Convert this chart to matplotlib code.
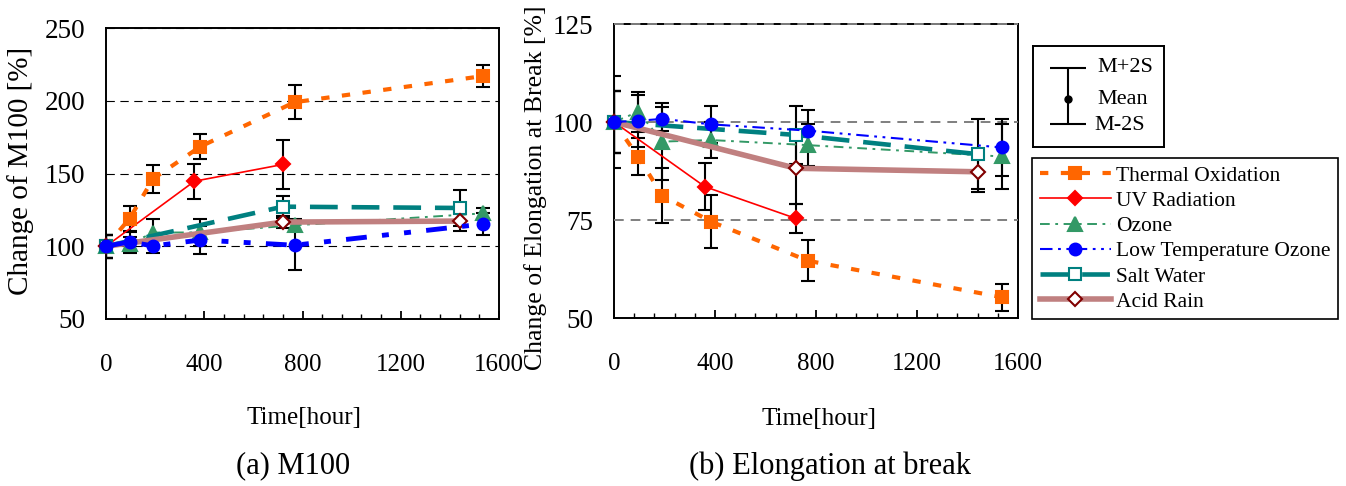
import matplotlib
matplotlib.use('Agg')
import matplotlib.pyplot as plt
from matplotlib.ticker import MultipleLocator

plt.rcParams['font.family'] = ['Liberation Serif', 'DejaVu Serif']
plt.rcParams['lines.scale_dashes'] = False

# ---------------- data ----------------
series = ['Thermal Oxidation', 'UV Radiation', 'Ozone',
          'Low Temperature Ozone', 'Salt Water', 'Acid Rain']

t_std = [0, 96, 192, 384, 768, 1536]   # Thermal Oxidation, Ozone, Low Temp. Ozone
t_uv = [0, 360, 720]                   # UV Radiation
t_env = [0, 720, 1440]                 # Salt Water, Acid Rain

# (a) M100 change [%]  (mean, 2S)
m100_to = [100, 119, 146.4, 168.5, 199, 217]
m100_to_err = [8, 9, 9.5, 8.7, 11.7, 7.5]
m100_uv = [100, 144.7, 156.2]
m100_uv_err = [8, 12, 17]
m100_oz = [100, 101.5, 109.4, 109.5, 114.4, 122.6]
m100_oz_err = [8, 5, 9, 9.5, 4, 4]
m100_lto = [100, 103, 100.2, 104.3, 100.7, 115.3]
m100_lto_err = [8, 7.5, 4.5, 9.5, 17, 7.5]
m100_salt = [100, 127.2, 126.3]
m100_salt_err = [8, 7.5, 12.7]
m100_acid = [100, 116.6, 117.3]
m100_acid_err = [8, 4, 6.8]

# (b) Elongation at break change [%]  (mean, 2S)
elo_to = [100, 91.1, 81.2, 74.6, 64.6, 55.3]
elo_to_err = [8, 4.7, 7, 6.7, 5.2, 3.4]
elo_uv = [100, 83.5, 75.4]
elo_uv_err = [11.8, 6, 3.8]
elo_oz = [100, 102.6, 95, 95.4, 94.1, 91.2]
elo_oz_err = [8, 5.1, 9.9, 4.5, 5.3, 8.3]
elo_lto = [100, 100.3, 100.8, 99.4, 97.8, 93.5]
elo_lto_err = [8, 6.7, 3, 4.7, 5.3, 7.3]
elo_salt = [100, 96.7, 91.8]
elo_salt_err = [8, 7.4, 9]
elo_acid = [100, 88.2, 87.3]
elo_acid_err = [8, 9, 5.2]

x_ticks = [0, 400, 800, 1200, 1600]
ticks_a = [50, 100, 150, 200, 250]
ticks_b = [50, 75, 100, 125]

# ---------------- styles ----------------
def styles(thick_lto):
    return {
        'Thermal Oxidation': dict(color='#FF6600', ls=(0, (6, 9)), lw=3.0, marker='s',
                                  ms=8, mfc='#FF6600', mec='#FF6600', z=3.1),
        'UV Radiation': dict(color='#FF0000', ls='-', lw=1.2, marker='D', ms=7.5,
                             mfc='#FF0000', mec='#FF0000', z=3.0),
        'Ozone': dict(color='#339966', ls=(0, (7, 4, 2, 4)), lw=1.4, marker='^', ms=9.5,
                      mfc='#339966', mec='#339966', z=3.2),
        'Low Temperature Ozone': dict(color='#0000FF',
                                      ls=(0, (15, 11, 5, 11, 5, 11)) if thick_lto else (0, (9, 4, 2, 4, 2, 4)),
                                      lw=3.5 if thick_lto else 1.5, marker='o', ms=8.5,
                                      mfc='#0000FF', mec='#0000FF', z=3.5),
        'Salt Water': dict(color='#008080', ls=(0, (20, 10)), lw=3.3, marker='s', ms=9,
                           mfc='white', mec='#008080', z=3.3),
        'Acid Rain': dict(color='#C08080', ls='-', lw=4.0, marker='D', ms=7.5,
                          mfc='white', mec='#800000', z=3.4),
    }

W, H = 1346, 486
fig = plt.figure(figsize=(W / 100, H / 100), dpi=100)

def px_axes(x0, x1, y0, y1):
    return fig.add_axes([x0 / W, 1 - y1 / H, (x1 - x0) / W, (y1 - y0) / H])

ax_a = px_axes(106, 499, 28, 319)
ax_b = px_axes(614, 1018, 24, 318)

data_a = [(t_std, m100_to, m100_to_err), (t_uv, m100_uv, m100_uv_err),
          (t_std, m100_oz, m100_oz_err), (t_std, m100_lto, m100_lto_err),
          (t_env, m100_salt, m100_salt_err), (t_env, m100_acid, m100_acid_err)]
data_b = [(t_std, elo_to, elo_to_err), (t_uv, elo_uv, elo_uv_err),
          (t_std, elo_oz, elo_oz_err), (t_std, elo_lto, elo_lto_err),
          (t_env, elo_salt, elo_salt_err), (t_env, elo_acid, elo_acid_err)]

handles_b = []
for ax, data, thick, ylim, yt, gcol, glw, gdash in [
        (ax_a, data_a, True, (50, 250), ticks_a, 'black', 0.8, (0, (6, 4))),
        (ax_b, data_b, False, (50, 125), ticks_b, '#7f7f7f', 1.4, (0, (7, 5)))]:
    st = styles(thick)
    for name, (t, y, e) in zip(series, data):
        ax.errorbar(t, y, yerr=e, fmt='none', ecolor='black', elinewidth=1.5,
                    capsize=5, capthick=1.5, zorder=2.8)
    for name, (t, y, e) in zip(series, data):
        s = st[name]
        ln, = ax.plot(t, y, color=s['color'], ls=s['ls'], lw=s['lw'], marker=s['marker'],
                      ms=s['ms'], mfc=s['mfc'], mec=s['mec'], mew=1.5, zorder=s['z'],
                      label=name, clip_on=False)
        if ax is ax_b:
            handles_b.append(ln)
    ax.set_xlim(0, 1600)
    ax.set_ylim(*ylim)
    ax.set_xticks(x_ticks)
    ax.xaxis.set_minor_locator(MultipleLocator(80))
    ax.set_yticks(yt)
    for yv in yt[1:]:
        ax.axhline(yv, color=gcol, lw=glw, ls=gdash, zorder=2.6, clip_on=False)
    ax.tick_params(axis='x', which='major', direction='in', length=6, width=1.3,
                   labelsize=18, pad=25)
    ax.tick_params(axis='x', which='minor', direction='in', length=3.5, width=1.0)
    ax.tick_params(axis='y', length=0, labelsize=19.5, pad=15)
    for sp in ax.spines.values():
        sp.set_linewidth(1.4)
        sp.set_color('black')

# axis titles and captions
fig.text(21 / W, 1 - 171 / H, 'Change of M100 [%]', rotation=90, ha='center', va='center',
         fontsize=21)
fig.text(536 / W, 1 - 188 / H, 'Change of Elongation at Break [%]', rotation=90,
         ha='center', va='center', fontsize=18.5)
fig.text(304 / W, 1 - 418 / H, 'Time[hour]', ha='center', va='center', fontsize=18)
fig.text(819 / W, 1 - 419 / H, 'Time[hour]', ha='center', va='center', fontsize=18)
fig.text(293 / W, 1 - 466 / H, '(a) M100', ha='center', va='center', fontsize=22)
fig.text(830 / W, 1 - 466 / H, '(b) Elongation at break', ha='center', va='center',
         fontsize=22)

# series legend
leg = fig.legend(handles_b, series, loc='upper left',
                 bbox_to_anchor=(1032 / W, 1 - 158 / H), fontsize=15.5,
                 frameon=True, fancybox=False, edgecolor='black', framealpha=1,
                 borderpad=0.35, labelspacing=0.24, handlelength=3.3,
                 handletextpad=0.25, borderaxespad=0)
leg.get_frame().set_linewidth(1.2)

# error-bar key box
ax_k = px_axes(1033, 1164, 46, 147)
ax_k.set_xlim(0, 131)
ax_k.set_ylim(101, 0)
ax_k.set_xticks([])
ax_k.set_yticks([])
for sp in ax_k.spines.values():
    sp.set_linewidth(1.4)
ax_k.errorbar([35], [53], yerr=[[31], [25]], fmt='o', color='black', ms=5,
              elinewidth=1.5, capsize=13, capthick=1.5)
ax_k.text(64, 22, 'M+2S', va='center', ha='left', fontsize=16)
ax_k.text(64, 53, 'Mean', va='center', ha='left', fontsize=16)
ax_k.text(61, 79, 'M-2S', va='center', ha='left', fontsize=16)

fig.savefig('out.png', dpi=100)
